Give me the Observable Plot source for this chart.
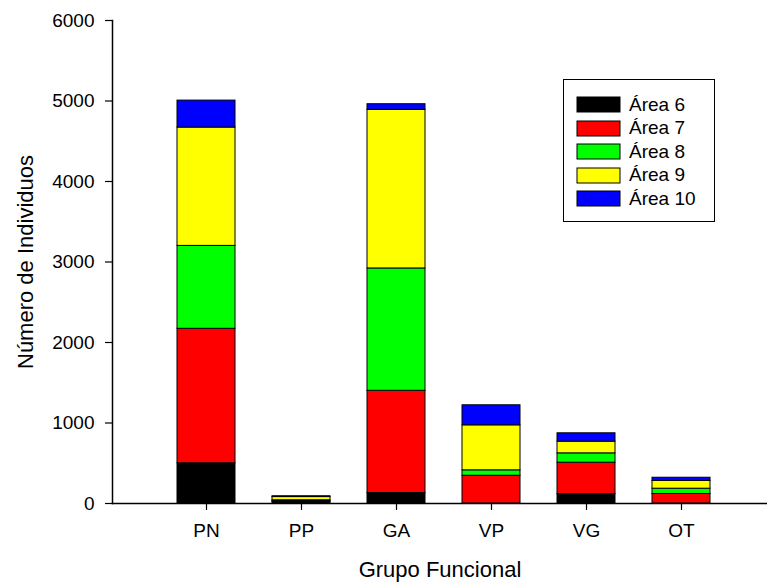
<!DOCTYPE html>
<html>
<head>
<meta charset="utf-8">
<script src="https://cdn.jsdelivr.net/npm/d3@7"></script>
<script src="https://cdn.jsdelivr.net/npm/@observablehq/plot@0.6"></script>
<style>
  html, body { margin: 0; padding: 0; background: #fff; }
  #grafico { position: relative; width: 767px; height: 583px; overflow: hidden; }
  #leyenda {
    position: absolute; left: 563px; top: 79px; width: 152px; height: 143px;
    border: 1px solid #000; box-sizing: border-box; padding: 12.75px 0 0 13px; background: #fff;
  }
  #leyenda .areas-swatch { height: 23.5px; padding-bottom: 0; margin: 0; display: flex; align-items: center; }
  #leyenda .areas-swatch > svg { margin-right: 9px; overflow: visible; }
  #leyenda .areas-swatch svg rect { stroke: #000; stroke-width: 1px; }
  #leyenda .areas-swatches { margin: 0; }
</style>
</head>
<body>
<div id="grafico"></div>
<script>
// Grupos funcionales (eje x) y áreas de muestreo (series apiladas)
const grupos = ["PN", "PP", "GA", "VP", "VG", "OT"];
const areas = ["Área 6", "Área 7", "Área 8", "Área 9", "Área 10"];
const colores = ["#000000", "#ff0000", "#00ff00", "#ffff00", "#0000ff"];

// Número de individuos por grupo, una lista por área
const area6 = [500, 20, 130, 0, 118, 0];
const area7 = [1670, 10, 1270, 345, 389, 118];
const area8 = [1030, 10, 1520, 67, 116, 66];
const area9 = [1470, 40, 1970, 559, 145, 96];
const area10 = [335, 10, 70, 249, 104, 40];

const yTicks = [0, 1000, 2000, 3000, 4000, 5000, 6000];

const series = [area6, area7, area8, area9, area10];
const filas = [];
series.forEach((valores, k) => {
  valores.forEach((n, i) => filas.push({grupo: grupos[i], area: areas[k], n}));
});

const fuente = "Liberation Sans, Arial, Helvetica, sans-serif";

const plot = Plot.plot({
  width: 767,
  height: 583,
  marginLeft: 112,
  marginRight: 0,
  marginTop: 20,
  marginBottom: 80,
  style: {fontFamily: fuente, background: "#fff", color: "#000"},
  x: {domain: grupos, range: [109.5, 778], paddingInner: 0.39, paddingOuter: 0.695, align: 0.5, label: null},
  y: {domain: [0, 6000], label: null},
  color: {domain: areas, range: colores},
  marks: [
    Plot.barY(filas, {x: "grupo", y: "n", fill: "area", stroke: "#000", strokeWidth: 1}),
    Plot.frame({anchor: "left", stroke: "#000", strokeWidth: 1.5}),
    Plot.frame({anchor: "bottom", stroke: "#000", strokeWidth: 1.5}),
    Plot.axisY({ticks: yTicks, tickFormat: d3.format("d"), tickSize: 7, tickPadding: 11, fontSize: 19, label: null, strokeWidth: 1.2}),
    Plot.axisX({tickSize: 7, tickPadding: 13, fontSize: 19, label: null, strokeWidth: 1.2}),
    Plot.text(["Número de Individuos"], {frameAnchor: "left", rotate: -90, dx: -87, fontSize: 22, lineAnchor: "middle", textAnchor: "middle"}),
    Plot.text(["Grupo Funcional"], {frameAnchor: "bottom", dy: 66, fontSize: 22, lineAnchor: "middle", textAnchor: "middle"})
  ]
});

const contenedor = document.getElementById("grafico");
contenedor.appendChild(plot);

const leyenda = document.createElement("div");
leyenda.id = "leyenda";
leyenda.appendChild(Plot.legend({
  color: {domain: areas, range: colores},
  legend: "swatches",
  columns: 1,
  swatchWidth: 43,
  swatchHeight: 15,
  className: "areas",
  style: {fontFamily: fuente, fontSize: "19px", color: "#000"}
}));
contenedor.appendChild(leyenda);
</script>
</body>
</html>
